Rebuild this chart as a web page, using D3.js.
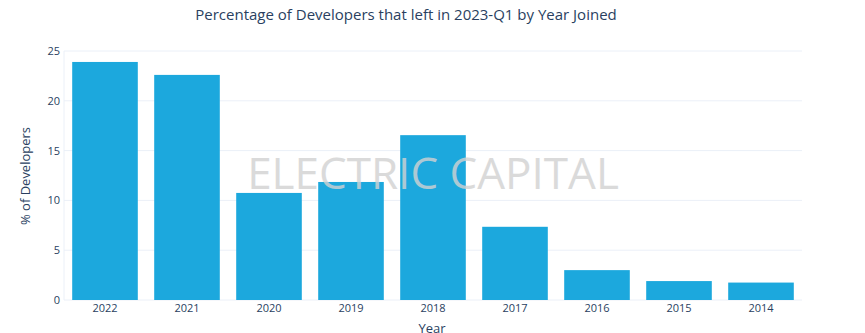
<!DOCTYPE html>
<html>
<head>
<meta charset="utf-8">
<script src="https://cdn.jsdelivr.net/npm/d3@7"></script>
<style>
  body { margin: 0; background: #fff; }
  text { font-family: "Open Sans", "DejaVu Sans", sans-serif; fill: #2a3f5f; }
</style>
</head>
<body>
<div id="chart"></div>
<script>
// data
const years = ["2022", "2021", "2020", "2019", "2018", "2017", "2016", "2015", "2014"];
const pctLeft = [23.9, 22.6, 10.75, 11.85, 16.55, 7.35, 3.0, 1.9, 1.75];
const yTicks = [0, 5, 10, 15, 20, 25];

const width = 865, height = 333;
const margin = { top: 51, right: 63, bottom: 33, left: 64 };
const gW = width - margin.left - margin.right;
const gH = height - margin.top - margin.bottom;

const svg = d3.select("#chart").append("svg")
    .attr("width", width)
    .attr("height", height);

const g = svg.append("g")
    .attr("transform", `translate(${margin.left},${margin.top})`);

const x = d3.scaleBand().domain(years).range([0, gW])
    .paddingInner(0.2).paddingOuter(0.1);
const y = d3.scaleLinear().domain([0, 25]).range([gH, 0]);

// gridlines
g.selectAll(".grid")
    .data(yTicks)
    .enter().append("line")
    .attr("x1", 0).attr("x2", gW)
    .attr("y1", d => y(d)).attr("y2", d => y(d))
    .attr("stroke", "#ebf0f8")
    .attr("stroke-width", 1);

g.append("line")
    .attr("x1", 0).attr("x2", 0)
    .attr("y1", 0).attr("y2", gH)
    .attr("stroke", "#ebf0f8");

// watermark
svg.append("text")
    .attr("x", 433).attr("y", 189)
    .attr("text-anchor", "middle")
    .style("font-size", "44px")
    .style("fill", "#d2d2d2")
    .style("opacity", 0.8)
    .text("ELECTRIC CAPITAL");

// bars
g.selectAll(".bar")
    .data(years)
    .enter().append("rect")
    .attr("x", d => x(d))
    .attr("width", x.bandwidth())
    .attr("y", (d, i) => y(pctLeft[i]))
    .attr("height", (d, i) => gH - y(pctLeft[i]))
    .attr("fill", "#1ca8dd");

// axes
const yAxis = d3.axisLeft(y).tickValues(yTicks).tickSize(0).tickPadding(4);
const yg = g.append("g").call(yAxis);
yg.select(".domain").remove();
yg.selectAll("text").style("font-size", "11px").style("fill", "#2a3f5f");

const xAxis = d3.axisBottom(x).tickSize(0).tickPadding(4);
const xg = g.append("g").attr("transform", `translate(0,${gH})`).call(xAxis);
xg.select(".domain").remove();
xg.selectAll("text").style("font-size", "11px").style("fill", "#2a3f5f");

// titles
svg.append("text")
    .attr("x", 406).attr("y", 20)
    .attr("text-anchor", "middle")
    .style("font-size", "15px")
    .text("Percentage of Developers that left in 2023-Q1 by Year Joined");

svg.append("text")
    .attr("transform", "translate(30,176) rotate(-90)")
    .attr("text-anchor", "middle")
    .style("font-size", "13px")
    .text("% of Developers");

svg.append("text")
    .attr("x", 432).attr("y", 333)
    .attr("text-anchor", "middle")
    .style("font-size", "13px")
    .text("Year");
</script>
</body>
</html>
